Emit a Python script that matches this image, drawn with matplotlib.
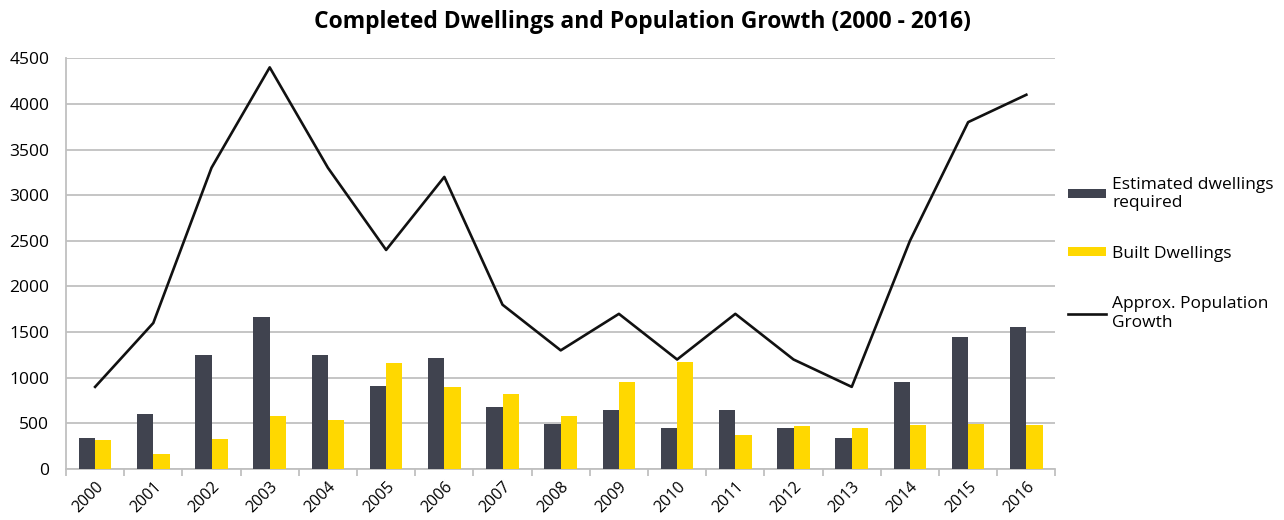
import matplotlib
matplotlib.use("Agg")
import matplotlib.pyplot as plt
import numpy as np

years = ["2000", "2001", "2002", "2003", "2004", "2005", "2006", "2007", "2008",
         "2009", "2010", "2011", "2012", "2013", "2014", "2015", "2016"]
estimated_required = [336, 603, 1253, 1670, 1253, 910, 1213, 676, 493,
                      643, 453, 643, 453, 336, 950, 1443, 1560]
built_dwellings = [318, 161, 329, 581, 537, 1158, 895, 822, 581,
                   957, 1176, 369, 471, 453, 482, 493, 482]
population_growth = [900, 1600, 3300, 4400, 3300, 2400, 3200, 1800, 1300,
                     1700, 1200, 1700, 1200, 900, 2500, 3800, 4100]

plt.rcParams['font.family'] = ['Open Sans', 'DejaVu Sans']

fig = plt.figure(figsize=(12.84, 5.2), dpi=100)
ax = fig.add_axes([0.0514, 0.098, 0.7706, 0.79])

x = np.arange(len(years))
bw = 0.28
grid_c = "#c0c0c0"
b1 = ax.bar(x - bw / 2, estimated_required, width=bw, color="#40434f",
            label="Estimated dwellings\nrequired", zorder=3)
b2 = ax.bar(x + bw / 2, built_dwellings, width=bw, color="#ffd800",
            label="Built Dwellings", zorder=3)
l1, = ax.plot(x, population_growth, color="#111111", lw=1.9,
              label="Approx. Population\nGrowth", zorder=4)

ax.set_xlim(-0.5, len(years) - 0.5)
ax.set_ylim(0, 4500)
ax.set_yticks(np.arange(0, 4501, 500))
ax.yaxis.grid(True, color=grid_c, lw=1.3, zorder=0)
ax.set_axisbelow(True)
for s in ["top", "right"]:
    ax.spines[s].set_visible(False)
for s in ["left", "bottom"]:
    ax.spines[s].set_color(grid_c)
    ax.spines[s].set_linewidth(1.3)

ax.set_xticks(x)
ax.set_xticklabels(years, rotation=45, ha="right", rotation_mode="anchor",
                   fontsize=11.5)
ax.tick_params(axis="x", length=0, pad=7)
ax.set_xticks(np.arange(-0.5, len(years) + 0.5, 1), minor=True)
ax.tick_params(axis="x", which="minor", length=5, color=grid_c, width=1.3,
               direction="out")
ax.tick_params(axis="y", length=0, labelsize=12.5, pad=12)

fig.suptitle("Completed Dwellings and Population Growth (2000 - 2016)",
             fontsize=16.5, fontweight="bold", x=0.5, y=0.98)

ax.legend(handles=[b1, b2, l1], loc="upper left", bbox_to_anchor=(0.997, 0.75),
          frameon=False, fontsize=12.5, handlelength=2.2, handleheight=0.35,
          labelspacing=2.0, handletextpad=0.35)

fig.savefig("out.png", dpi=100)
